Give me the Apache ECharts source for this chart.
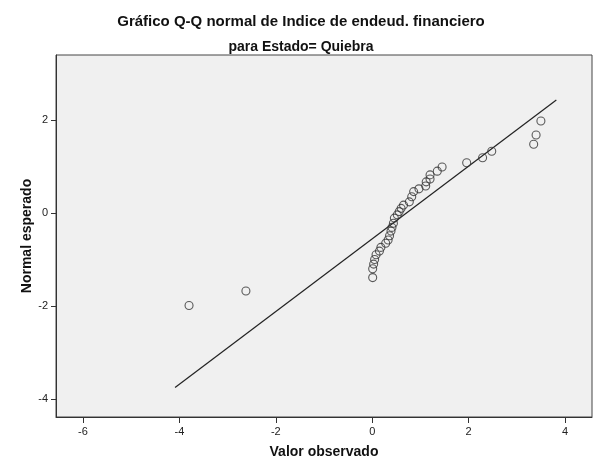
<!DOCTYPE html>
<html>
<head>
<meta charset="utf-8">
<script src="https://cdn.jsdelivr.net/npm/echarts@6/dist/echarts.min.js"></script>
<style>
  html, body { margin: 0; padding: 0; background: #ffffff; }
  #chart { width: 602px; height: 463px; }
</style>
</head>
<body>
<div id="chart"></div>
<script>
// Observed values of the index and their expected normal scores
const observed = [
  -3.80, -2.62, 0.01, 0.01, 0.03, 0.05, 0.08, 0.15, 0.18, 0.28, 0.33, 0.36,
  0.39, 0.41, 0.44, 0.46, 0.52, 0.56, 0.60, 0.65, 0.77, 0.82, 0.86, 0.97,
  1.11, 1.12, 1.20, 1.20, 1.35, 1.45, 1.96, 2.29, 2.48, 3.35, 3.40, 3.50
];
const expectedNormal = [
  -1.99, -1.68, -1.39, -1.20, -1.10, -1.00, -0.90, -0.82, -0.74, -0.65, -0.58, -0.49,
  -0.39, -0.31, -0.22, -0.11, -0.04, 0.03, 0.10, 0.17, 0.24, 0.35, 0.46, 0.52,
  0.58, 0.67, 0.73, 0.82, 0.90, 0.99, 1.08, 1.19, 1.33, 1.48, 1.68, 1.98
];

// Reference line: expected = (x - mean) / sd
const refMean = 0.71;
const refSd = 1.278;
const refLineX = [-4.09, 3.82];

const xTicks = [-6, -4, -2, 0, 2, 4];
const yTicks = [-4, -2, 0, 2];

const points = observed.map((x, i) => [x, expectedNormal[i]]);
const refLine = refLineX.map(x => [x, (x - refMean) / refSd]);

const chart = echarts.init(document.getElementById('chart'));
const sans = 'Liberation Sans, Arial, sans-serif';
const labelFont = { fontFamily: sans, fontSize: 11, color: '#222' };
const axisNameFont = { fontFamily: sans, fontSize: 14, fontWeight: 'bold', color: '#111' };

chart.setOption({
  backgroundColor: '#ffffff',
  animation: false,
  title: [
    {
      text: 'Gráfico Q-Q normal de Indice de endeud. financiero',
      left: 'center', top: 9,
      textStyle: { fontFamily: sans, fontSize: 15, fontWeight: 'bold', color: '#111' }
    },
    {
      text: 'para Estado= Quiebra',
      left: 'center', top: 35,
      textStyle: { fontFamily: sans, fontSize: 14, fontWeight: 'bold', color: '#111' }
    }
  ],
  grid: {
    left: 56, right: 10, top: 55, bottom: 46,
    outerBoundsMode: 'none',
    show: true,
    backgroundColor: '#f0f0f0',
    borderColor: '#444',
    borderWidth: 1
  },
  xAxis: {
    type: 'value',
    min: -6.56, max: 4.56,
    name: 'Valor observado',
    nameLocation: 'middle',
    nameGap: 28,
    nameMoveOverlap: false,
    nameTextStyle: axisNameFont,
    axisLine: { show: true, onZero: false, lineStyle: { color: '#333', width: 1 } },
    axisTick: { show: true, length: 6, customValues: xTicks, lineStyle: { color: '#333' } },
    axisLabel: { customValues: xTicks, margin: 9, ...labelFont },
    splitLine: { show: false }
  },
  yAxis: {
    type: 'value',
    min: -4.39, max: 3.40,
    name: 'Normal esperado',
    nameLocation: 'middle',
    nameGap: 22,
    nameMoveOverlap: false,
    nameRotate: 90,
    nameTextStyle: axisNameFont,
    axisLine: { show: true, onZero: false, lineStyle: { color: '#333', width: 1 } },
    axisTick: { show: true, length: 5, customValues: yTicks, lineStyle: { color: '#333' } },
    axisLabel: { customValues: yTicks, margin: 8, ...labelFont },
    splitLine: { show: false }
  },
  series: [
    {
      type: 'line',
      data: refLine,
      symbol: 'none',
      lineStyle: { color: '#222', width: 1.2 },
      silent: true,
      z: 2
    },
    {
      type: 'scatter',
      data: points,
      symbol: 'circle',
      symbolSize: 8,
      itemStyle: { color: 'rgba(0,0,0,0)', borderColor: '#333', borderWidth: 1.1 },
      z: 3
    }
  ]
});
</script>
</body>
</html>
